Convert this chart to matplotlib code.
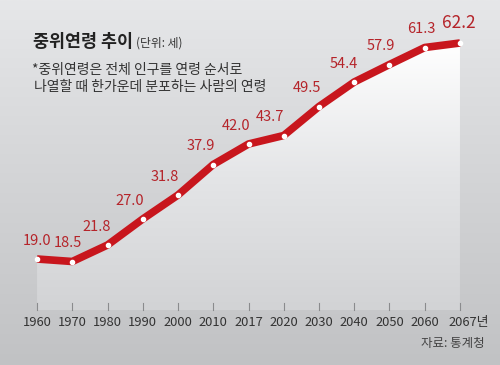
import numpy as np
import matplotlib.pyplot as plt
from matplotlib.colors import LinearSegmentedColormap
from matplotlib.patches import Polygon

plt.rcParams['font.family'] = ['Noto Sans CJK KR', 'DejaVu Sans']

# data
years = ['1960', '1970', '1980', '1990', '2000', '2010', '2017',
         '2020', '2030', '2040', '2050', '2060', '2067년']
ages = [19.0, 18.5, 21.8, 27.0, 31.8, 37.9, 42.0,
        43.7, 49.5, 54.4, 57.9, 61.3, 62.2]

# label offsets in pixels (dx) relative to each point
label_dx = [0, -4, -11, -13, -13, -12, -12, -14, -12, -10, -9, -3, -1]

red = '#c8161d'
label_red = '#b5242a'

fig = plt.figure(figsize=(5, 3.65), dpi=100)
ax = fig.add_axes([0, 0, 1, 1])
x0, x1 = -1.05, 13.135
y0, y1 = -2.2, 70.8
ax.set_xlim(x0, x1)
ax.set_ylim(y0, y1)
ax.axis('off')

# background gradient
bg = LinearSegmentedColormap.from_list('bg', ['#c1c2c4', '#d3d4d6', '#e6e7e9'])
grad = np.linspace(0, 1, 256).reshape(-1, 1)
ax.imshow(grad, extent=[x0, x1, y0, y1], origin='lower', aspect='auto',
          cmap=bg, zorder=0)

# area under the line with gradient
xs = np.arange(len(ages))
base = 8.8
poly = Polygon(list(zip(xs, ages)) + [(xs[-1], base), (xs[0], base)],
               closed=True, facecolor='none', edgecolor='none')
ax.add_patch(poly)
fillmap = LinearSegmentedColormap.from_list('fill', ['#d2d3d5', '#e4e5e7', '#ffffff'])
im = ax.imshow(grad, extent=[xs[0], xs[-1], base, max(ages)], origin='lower',
               aspect='auto', cmap=fillmap, zorder=1)
im.set_clip_path(poly)

# ticks
for x in xs:
    ax.plot([x, x], [base, base + 1.5], color='#8a8b8d', lw=0.8, zorder=2)

ax.plot(xs, ages, color=red, lw=5.5, solid_capstyle='butt',
        solid_joinstyle='round', zorder=3)
ax.scatter(xs, ages, s=9, color='white', zorder=4)

for i, (x, v) in enumerate(zip(xs, ages)):
    last = i == len(ages) - 1
    ax.annotate(f'{v:.1f}', (x, v), xytext=(label_dx[i] * 0.72, 8),
                textcoords='offset points', ha='center', va='bottom',
                fontsize=12.5 if last else 10.5, color=label_red)

for i, (x, lab) in enumerate(zip(xs, years)):
    if i == len(years) - 1:
        ax.text(x - 0.34, 6.3, lab, ha='left', va='center', fontsize=9.3,
                color='#333333')
    else:
        ax.text(x, 6.3, lab, ha='center', va='center', fontsize=9.3,
                color='#333333')

fig.text(33 / 500, 1 - 42 / 365, '중위연령 추이', fontsize=12.5, fontweight='bold',
         color='#222222', va='center', ha='left')
fig.text(136 / 500, 1 - 43 / 365, '(단위: 세)', fontsize=8.5,
         color='#333333', va='center', ha='left')
fig.text(32 / 500, 1 - 70 / 365, '*중위연령은 전체 인구를 연령 순서로',
         fontsize=10, color='#333333', va='center', ha='left')
fig.text(34 / 500, 1 - 87 / 365, '나열할 때 한가운데 분포하는 사람의 연령',
         fontsize=10, color='#333333', va='center', ha='left')
fig.text(485 / 500, 1 - 344 / 365, '자료: 통계청', fontsize=9,
         color='#444444', va='center', ha='right')

fig.savefig('out.png', dpi=100)
